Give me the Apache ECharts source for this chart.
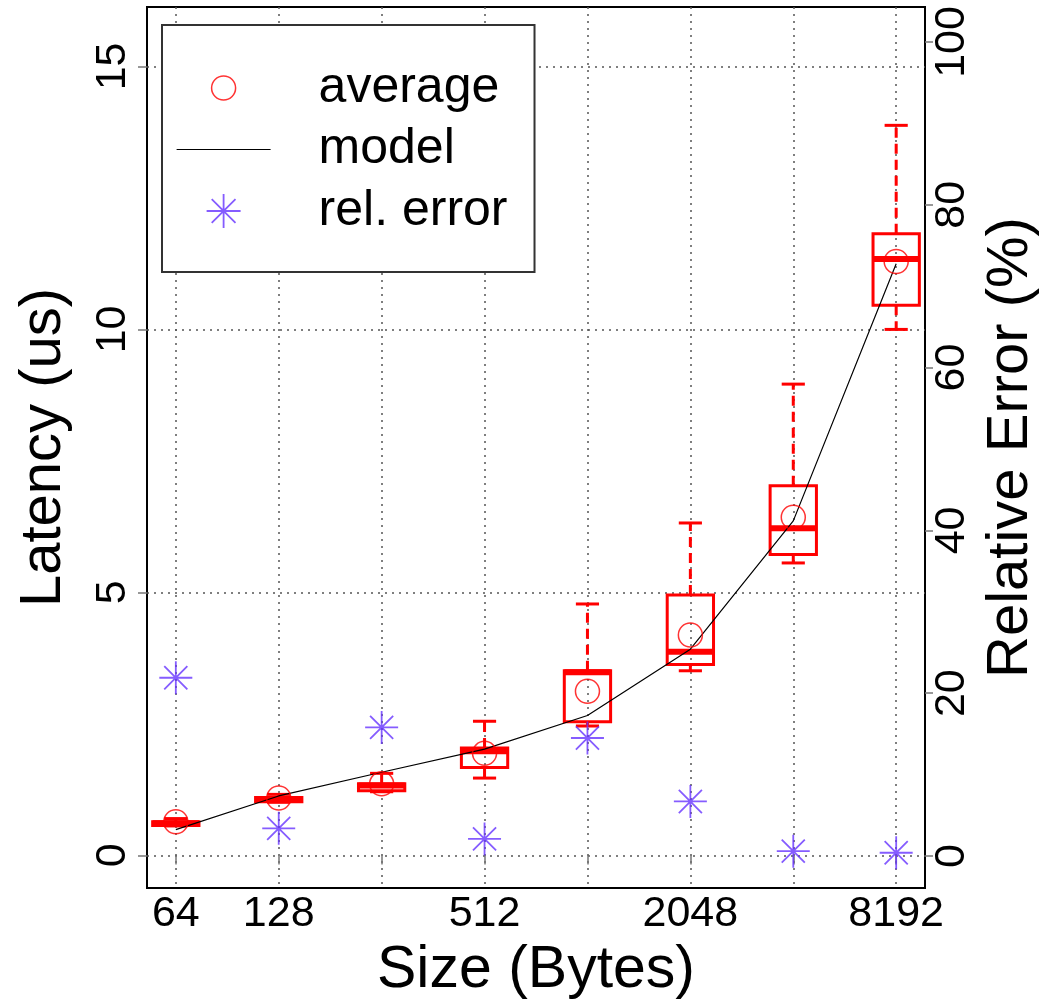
<!DOCTYPE html>
<html>
<head>
<meta charset="utf-8">
<script src="https://cdn.jsdelivr.net/npm/echarts@6/dist/echarts.min.js"></script>
<style>
  html, body { margin: 0; padding: 0; background: #fff; }
  #chart { width: 1049px; height: 1000px; }
</style>
</head>
<body>
<div id="chart"></div>
<script>
// message sizes (bytes), one box per size
const sizes = [64, 128, 256, 512, 1024, 2048, 4096, 8192]
const labeledSizes = [64, 128, 512, 2048, 8192]

// latency distribution (us)
const whiskerLow = [0.56, 1.01, 1.21, 1.47, 2.46, 3.51, 5.56, 10.00]
const q1 = [0.57, 1.02, 1.23, 1.67, 2.54, 3.63, 5.72, 10.46]
const median = [0.61, 1.06, 1.33, 1.98, 3.48, 3.87, 6.22, 11.34]
const q3 = [0.64, 1.10, 1.36, 2.04, 3.51, 4.95, 7.03, 11.82]
const whiskerHigh = [0.70, 1.16, 1.56, 2.55, 4.78, 6.32, 8.96, 13.88]
const average = [0.64, 1.09, 1.36, 1.94, 3.12, 4.19, 6.43, 11.29]
const model = [0.49, 1.13, 1.58, 2.02, 2.66, 3.92, 6.36, 11.25]

// relative error (%) on the right axis
const relError = [21.9, 3.4, 15.8, 2.1, 14.5, 6.7, 0.6, 0.4]

const latencyTicks = [0, 5, 10, 15]
const errorTicks = [0, 20, 40, 60, 80, 100]

const RED = '#ff0000'
const PURPLE = '#6633ff'
const FONT = '"Liberation Sans", Arial, Helvetica, sans-serif'
const asterisk = 'path://M0,-1V1M-1,0H1M-0.7,-0.7L0.7,0.7M-0.7,0.7L0.7,-0.7'
// legend icons with an invisible bounding box so they keep their own size
const legendCircle = 'path://M-17,-17M17,17M12,0A12,12,0,1,1,-12,0A12,12,0,1,1,12,0Z'
const legendLine = 'path://M0,-1M0,1M0,0H94'

const xs = sizes.map(s => Math.log2(s))
const dotted = { color: '#555', type: [2, 5], width: 1.5 }
const tickStyle = { color: '#777', width: 1.5 }

const boxData = xs.map((x, i) => [x, whiskerLow[i], q1[i], median[i], q3[i], whiskerHigh[i]])

function renderBox(params, api) {
  const x = api.value(0)
  const cx = api.coord([x, 0])[0]
  const y = k => api.coord([x, api.value(k)])[1]
  const half = api.size([0.45, 0])[0] / 2
  const cap = half / 2
  const solid = { stroke: RED, lineWidth: 3, fill: null }
  const dashed = { stroke: RED, lineWidth: 3, lineDash: [10, 6], fill: null }
  return {
    type: 'group',
    children: [
      { type: 'line', shape: { x1: cx, y1: y(4), x2: cx, y2: y(5) }, style: dashed },
      { type: 'line', shape: { x1: cx, y1: y(2), x2: cx, y2: y(1) }, style: dashed },
      { type: 'line', shape: { x1: cx - cap, y1: y(5), x2: cx + cap, y2: y(5) }, style: solid },
      { type: 'line', shape: { x1: cx - cap, y1: y(1), x2: cx + cap, y2: y(1) }, style: solid },
      { type: 'rect', shape: { x: cx - half, y: y(4), width: half * 2, height: y(2) - y(4) }, style: solid },
      { type: 'line', shape: { x1: cx - half, y1: y(3), x2: cx + half, y2: y(3) }, style: { stroke: RED, lineWidth: 6 } },
    ],
  }
}

const chart = echarts.init(document.getElementById('chart'), null, { renderer: 'canvas' })

chart.setOption({
  animation: false,
  backgroundColor: '#fff',
  textStyle: { fontFamily: FONT },
  grid: {
    left: 147, right: 124, top: 7, bottom: 112,
    show: true, borderColor: '#000', borderWidth: 2,
    backgroundColor: 'transparent',
    outerBoundsMode: 'none',
  },
  legend: {
    left: 162,
    top: 25,
    orient: 'vertical',
    selectedMode: false,
    backgroundColor: '#fff',
    borderColor: '#333',
    borderWidth: 2,
    borderRadius: 0,
    padding: [38, 27, 36, 14],
    itemWidth: 94,
    itemHeight: 34,
    itemGap: 11.5,
    z: 10,
    textStyle: { fontSize: 50, color: '#000', fontFamily: FONT, lineHeight: 50, padding: [0, 0, 0, 43] },
    data: [
      { name: 'average', icon: legendCircle, itemStyle: { color: 'transparent', borderColor: RED, borderWidth: 1.5 } },
      { name: 'model', icon: legendLine, itemStyle: { color: 'transparent', borderColor: '#000', borderWidth: 1.2 } },
      { name: 'rel. error', icon: asterisk, itemStyle: { color: 'transparent', borderColor: PURPLE, borderWidth: 1.8 } },
    ],
  },
  xAxis: {
    type: 'value',
    min: 5.72,
    max: 13.28,
    splitNumber: 8,
    axisLine: { show: false },
    axisTick: { show: true, length: 9, lineStyle: tickStyle, customValues: xs },
    axisLabel: {
      customValues: labeledSizes.map(s => Math.log2(s)),
      formatter: v => String(Math.round(Math.pow(2, v))),
      fontSize: 43, color: '#000', margin: 5, fontFamily: FONT,
    },
    splitLine: { show: true, lineStyle: dotted },
    name: 'Size (Bytes)',
    nameLocation: 'middle',
    nameGap: 48,
    nameTextStyle: { fontSize: 59, color: '#000', fontFamily: FONT },
  },
  yAxis: [
    {
      type: 'value',
      position: 'left',
      min: -0.62,
      max: 16.13,
      splitNumber: 3,
      axisLine: { show: false },
      axisTick: { show: true, length: 9, lineStyle: tickStyle, customValues: latencyTicks },
      axisLabel: { customValues: latencyTicks, rotate: 90, fontSize: 43, color: '#000', margin: 12, fontFamily: FONT },
      splitLine: { show: true, lineStyle: dotted },
      name: 'Latency (us)',
      nameLocation: 'middle',
      nameGap: 74,
      nameTextStyle: { fontSize: 58, color: '#000', fontFamily: FONT },
    },
    {
      type: 'value',
      position: 'right',
      min: -3.93,
      max: 104.3,
      splitNumber: 5,
      axisLine: { show: false },
      axisTick: { show: true, length: 8, lineStyle: tickStyle, customValues: errorTicks },
      axisLabel: { customValues: errorTicks, rotate: 90, fontSize: 43, color: '#000', margin: 6, fontFamily: FONT },
      splitLine: { show: false },
      name: 'Relative Error (%)',
      nameLocation: 'middle',
      nameGap: 51,
      nameTextStyle: { fontSize: 58, color: '#000', fontFamily: FONT },
    },
  ],
  series: [
    {
      name: 'latency',
      type: 'custom',
      renderItem: renderBox,
      encode: { x: 0, y: [1, 2, 3, 4, 5] },
      data: boxData,
      z: 2,
    },
    {
      name: 'model',
      type: 'line',
      data: xs.map((x, i) => [x, model[i]]),
      symbol: 'none',
      lineStyle: { color: '#000', width: 1.2 },
      itemStyle: { color: '#000' },
      z: 3,
    },
    {
      name: 'average',
      type: 'scatter',
      data: xs.map((x, i) => [x, average[i]]),
      symbol: 'circle',
      symbolSize: 24,
      itemStyle: { color: 'transparent', borderColor: RED, borderWidth: 1.5 },
      z: 4,
    },
    {
      name: 'rel. error',
      type: 'scatter',
      yAxisIndex: 1,
      data: xs.map((x, i) => [x, relError[i]]),
      symbol: asterisk,
      symbolSize: 33,
      itemStyle: { color: 'transparent', borderColor: PURPLE, borderWidth: 1.8 },
      z: 5,
    },
  ],
})
</script>
</body>
</html>
